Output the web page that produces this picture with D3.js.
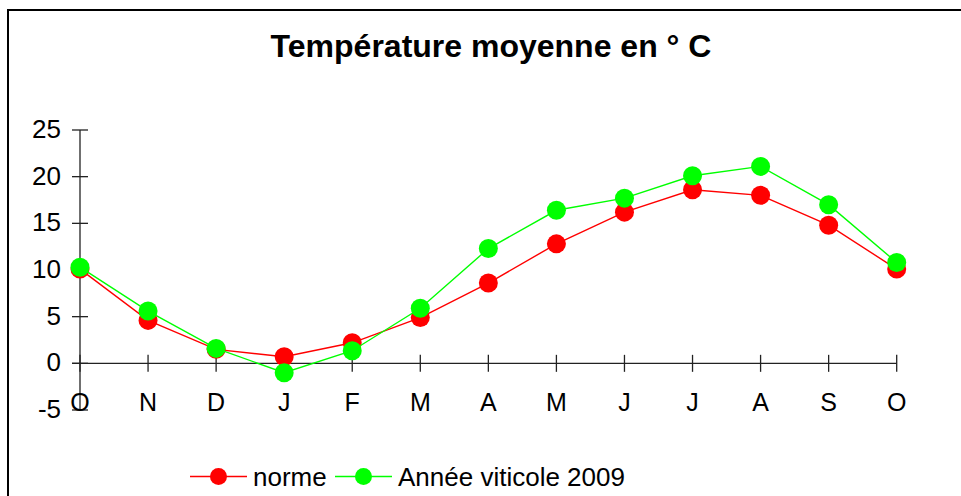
<!DOCTYPE html>
<html>
<head>
<meta charset="utf-8">
<title>Température moyenne</title>
<script src="https://d3js.org/d3.v7.min.js"></script>
<style>
  body { margin: 0; background: #fff; }
  svg { display: block; font-family: "Liberation Sans", Arial, sans-serif; }
</style>
</head>
<body>
<script>
// month labels, Oct -> Oct (wine year)
const months = ["O", "N", "D", "J", "F", "M", "A", "M", "J", "J", "A", "S", "O"];
const norme = [10.1, 4.6, 1.5, 0.7, 2.2, 4.9, 8.6, 12.8, 16.2, 18.6, 18.0, 14.8, 10.1];
const annee2009 = [10.3, 5.6, 1.6, -1.0, 1.35, 5.9, 12.3, 16.4, 17.7, 20.1, 21.1, 17.0, 10.8];
const yTicks = [-5, 0, 5, 10, 15, 20, 25];

const series = [
  { name: "norme", values: norme, color: "#ff0000" },
  { name: "Année viticole 2009", values: annee2009, color: "#00ff00" }
];

const width = 961, height = 496;

const svg = d3.select("body").append("svg")
  .attr("width", width)
  .attr("height", height);

// outer frame
svg.append("rect")
  .attr("x", 8).attr("y", 10)
  .attr("width", 990).attr("height", 520)
  .attr("fill", "none")
  .attr("stroke", "#000")
  .attr("stroke-width", 2);

svg.append("text")
  .attr("x", 491).attr("y", 57)
  .attr("text-anchor", "middle")
  .attr("font-size", "32px")
  .attr("font-weight", "bold")
  .text("Température moyenne en ° C");

const x = d3.scalePoint()
  .domain(d3.range(months.length))
  .range([80, 896.7]);

const y = d3.scaleLinear()
  .domain([-5, 25])
  .range([410, 130]);

// y axis with crossing ticks
const yAxis = svg.append("g");
yAxis.append("line")
  .attr("x1", x(0)).attr("x2", x(0))
  .attr("y1", y(-5)).attr("y2", y(25))
  .attr("stroke", "#222").attr("stroke-width", 1.3);
yAxis.selectAll("line.tick")
  .data(yTicks)
  .enter().append("line")
  .attr("class", "tick")
  .attr("x1", x(0) - 8).attr("x2", x(0) + 8)
  .attr("y1", d => y(d)).attr("y2", d => y(d))
  .attr("stroke", "#222").attr("stroke-width", 1.3);
yAxis.selectAll("text")
  .data(yTicks)
  .enter().append("text")
  .attr("x", 61)
  .attr("y", d => y(d) + 8)
  .attr("text-anchor", "end")
  .attr("font-size", "26px")
  .text(d => d);

// x axis at zero
const xAxis = svg.append("g");
xAxis.append("line")
  .attr("x1", x(0) - 8).attr("x2", x(months.length - 1))
  .attr("y1", y(0)).attr("y2", y(0))
  .attr("stroke", "#222").attr("stroke-width", 1.3);
xAxis.selectAll("line.tick")
  .data(d3.range(months.length))
  .enter().append("line")
  .attr("class", "tick")
  .attr("x1", d => x(d)).attr("x2", d => x(d))
  .attr("y1", y(0) - 8.5).attr("y2", y(0) + 8.5)
  .attr("stroke", "#222").attr("stroke-width", 1.3);
xAxis.selectAll("text")
  .data(months)
  .enter().append("text")
  .attr("x", (d, i) => x(i))
  .attr("y", 411)
  .attr("text-anchor", "middle")
  .attr("font-size", "25px")
  .text(d => d);

const line = d3.line()
  .x((d, i) => x(i))
  .y(d => y(d));

series.forEach(s => {
  const g = svg.append("g");
  g.append("path")
    .datum(s.values)
    .attr("d", line)
    .attr("fill", "none")
    .attr("stroke", s.color)
    .attr("stroke-width", 1.4);
  g.selectAll("circle")
    .data(s.values)
    .enter().append("circle")
    .attr("cx", (d, i) => x(i))
    .attr("cy", d => y(d))
    .attr("r", 9.5)
    .attr("fill", s.color);
});

// legend
const legendX = [190, 335];
const legend = svg.append("g");
const item = legend.selectAll("g")
  .data(series)
  .enter().append("g")
  .attr("transform", (d, i) => `translate(${legendX[i]},476.5)`);
item.append("line")
  .attr("x1", 0).attr("x2", 57)
  .attr("stroke", d => d.color)
  .attr("stroke-width", 1.4);
item.append("circle")
  .attr("cx", 28.5)
  .attr("r", 8.5)
  .attr("fill", d => d.color);
item.append("text")
  .attr("x", 63)
  .attr("y", 9.5)
  .attr("font-size", "26px")
  .text(d => d.name);
</script>
</body>
</html>
